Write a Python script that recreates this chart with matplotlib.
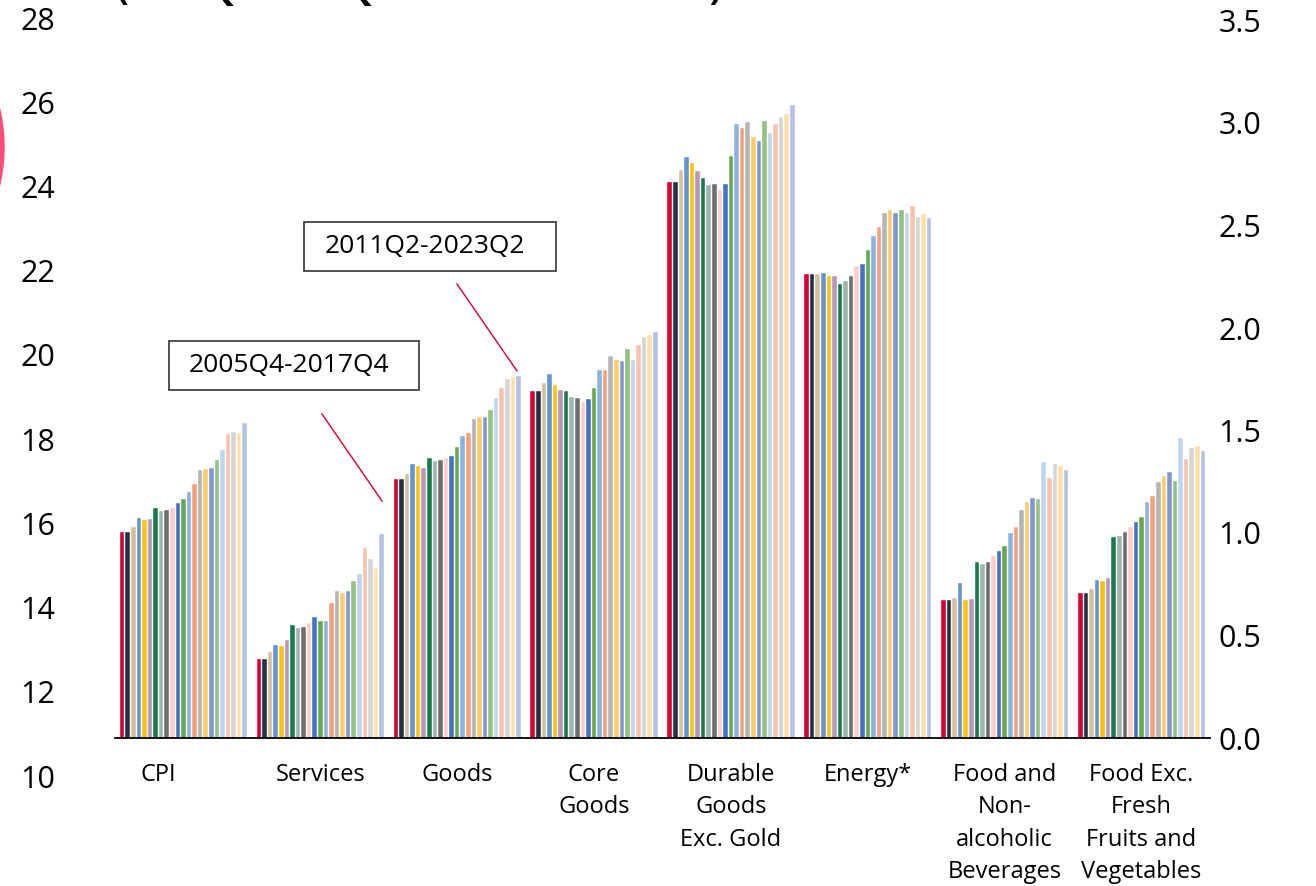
import numpy as np
import matplotlib.pyplot as plt
from matplotlib.patches import Rectangle, Ellipse
from matplotlib.lines import Line2D
from matplotlib.transforms import ScaledTranslation

plt.rcParams['font.family'] = ['Open Sans', 'DejaVu Sans']

categorias = ['CPI', 'Services', 'Goods', 'Core\nGoods', 'Durable\nGoods\nExc. Gold',
              'Energy*', 'Food and\nNon-\nalcoholic\nBeverages',
              'Food Exc.\nFresh\nFruits and\nVegetables']

# 23 ventanas moviles de 12 anos: 2005Q4-2017Q4 ... 2011Q2-2023Q2
cpi = [1.003, 1.003, 1.031, 1.075, 1.065, 1.070, 1.124, 1.109, 1.114, 1.124, 1.144, 1.167,
       1.202, 1.241, 1.306, 1.311, 1.316, 1.355, 1.403, 1.481, 1.492, 1.487, 1.536]
services = [0.385, 0.385, 0.420, 0.453, 0.451, 0.479, 0.551, 0.538, 0.541, 0.561, 0.590, 0.570,
            0.569, 0.658, 0.717, 0.707, 0.717, 0.766, 0.798, 0.925, 0.873, 0.829, 0.995]
goods = [1.264, 1.264, 1.289, 1.338, 1.325, 1.318, 1.367, 1.349, 1.357, 1.364, 1.377, 1.419,
         1.471, 1.487, 1.556, 1.566, 1.567, 1.602, 1.657, 1.709, 1.753, 1.763, 1.764]
core_goods = [1.691, 1.691, 1.734, 1.774, 1.720, 1.699, 1.691, 1.663, 1.658, 1.641, 1.655, 1.709,
              1.794, 1.794, 1.862, 1.843, 1.838, 1.898, 1.846, 1.918, 1.955, 1.966, 1.979]
durable = [2.714, 2.714, 2.770, 2.833, 2.807, 2.768, 2.731, 2.696, 2.701, 2.672, 2.704, 2.840,
           2.996, 2.975, 3.006, 2.934, 2.910, 3.012, 2.950, 2.993, 3.030, 3.046, 3.089]
energy = [2.263, 2.263, 2.263, 2.269, 2.256, 2.256, 2.214, 2.229, 2.255, 2.302, 2.313, 2.380,
          2.450, 2.493, 2.562, 2.574, 2.561, 2.574, 2.561, 2.594, 2.540, 2.556, 2.535]
food = [0.673, 0.673, 0.684, 0.758, 0.673, 0.678, 0.857, 0.847, 0.859, 0.890, 0.914, 0.938,
        1.002, 1.031, 1.111, 1.152, 1.172, 1.167, 1.346, 1.269, 1.339, 1.329, 1.308]
food_exc = [0.705, 0.705, 0.727, 0.772, 0.766, 0.779, 0.982, 0.986, 1.007, 1.031, 1.054, 1.080,
            1.152, 1.179, 1.250, 1.276, 1.299, 1.253, 1.465, 1.362, 1.414, 1.422, 1.401]

colores = ['#D50032', '#243142', '#D6BF9D', '#6495CE', '#FFC20E', '#B796B9', '#1B7A4B',
           '#9DB5AE', '#6D6E70', '#FFCCCC', '#4472C4', '#6AA84F', '#8AB4E0', '#F4A07A',
           '#B5B5B5', '#FFCC66', '#7F96D0', '#93C17E', '#BDD5EE', '#F7C2AE', '#D5D5D5',
           '#FFE0A6', '#B4C2E3']

ticks_der = [0.0, 0.5, 1.0, 1.5, 2.0, 2.5, 3.0, 3.5]
ticks_izq = [10, 12, 14, 16, 18, 20, 22, 24, 26, 28]

W, H = 1316, 886
fig = plt.figure(figsize=(W / 100, H / 100), dpi=100)

def fx(x):
    return x / W

def fy(y):
    return 1 - y / H

# eje principal con las barras (escala derecha)
ax = fig.add_axes([fx(115), fy(738), fx(1210) - fx(115), fy(20.5) - fy(738)])
tabla = np.array([cpi, services, goods, core_goods, durable, energy, food, food_exc])
n = tabla.shape[1]
paso = 0.0407
x = np.arange(len(categorias))
for j in range(n):
    ax.bar(x + (j - (n - 1) / 2) * paso, tabla[:, j], width=paso * 0.82,
           color=colores[j], edgecolor='white', linewidth=0.3)

ax.set_xlim(-0.5, len(categorias) - 0.5)
ax.set_ylim(0, 3.5)
ax.yaxis.tick_right()
ax.set_yticks(ticks_der)
ax.set_yticklabels([f'{t:.1f}' for t in ticks_der])
ax.tick_params(axis='y', length=0, pad=6, labelsize=22)
ax.set_xticks(x)
ax.set_xticklabels(categorias, fontsize=17, linespacing=1.47, va='top')
ax.tick_params(axis='x', length=0, pad=18)
for s in ['top', 'left', 'right']:
    ax.spines[s].set_visible(False)
ax.spines['bottom'].set_linewidth(1.3)

lbl = ax.get_xticklabels()[0]
lbl.set_transform(lbl.get_transform() + ScaledTranslation(-25 / 100, 0, fig.dpi_scale_trans))

# escala izquierda
ax2 = fig.add_axes([fx(115), fy(776), 0.001, fy(18) - fy(776)])
ax2.set_ylim(10, 28)
ax2.set_yticks(ticks_izq)
ax2.tick_params(axis='y', length=0, pad=43, labelsize=22)
ax2.set_xticks([])
for s in ax2.spines.values():
    s.set_visible(False)
ax2.patch.set_visible(False)

# cuadros de texto y lineas
cajas = [((169, 341, 419, 390), '2005Q4-2017Q4', (322, 414, 382, 501)),
         ((304, 222, 556, 271), '2011Q2-2023Q2', (457, 284, 517, 371))]
for (x0, y0, x1, y1), txt, (lx0, ly0, lx1, ly1) in cajas:
    fig.add_artist(Rectangle((fx(x0), fy(y1)), fx(x1) - fx(x0), fy(y0) - fy(y1),
                             facecolor='white', edgecolor='#333333', linewidth=1.2))
    fig.text(fx((x0 + x1) / 2 - 5), fy((y0 + y1) / 2), txt, fontsize=19,
             ha='center', va='center')
    fig.add_artist(Line2D([fx(lx0), fx(lx1)], [fy(ly0), fy(ly1)], color='#D50032', linewidth=1))

# titulo (queda cortado por arriba)
fig.text(fx(117), 1.0, '(2005Q4-2017Q4 to 2011-2023 Data)', fontsize=25,
         fontweight='bold', ha='left', va='baseline')

# marca rosa en el borde
fig.add_artist(Ellipse((fx(-165), fy(147)), 338 / W, 338 / H, color='#FF4D79'))

fig.savefig('out.png', dpi=100)
